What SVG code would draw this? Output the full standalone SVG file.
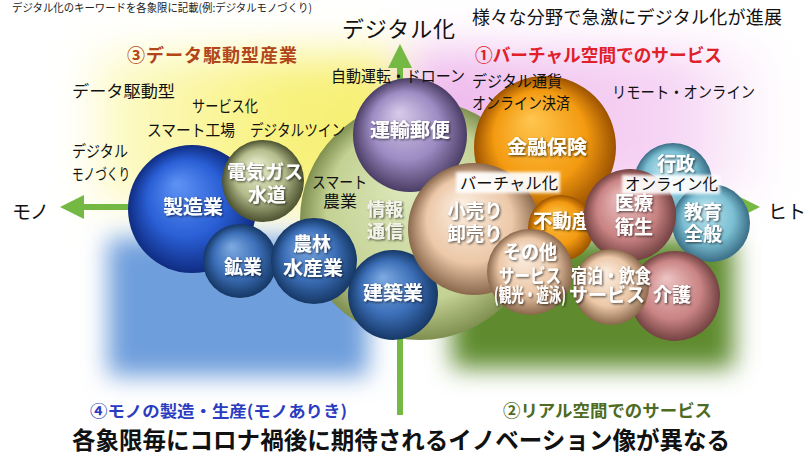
<svg xmlns="http://www.w3.org/2000/svg" width="810" height="455" viewBox="0 0 810 455">
<defs>
<style>
text{font-family:"Noto Sans CJK JP","Noto Sans CJK SC",sans-serif;}
.kw{font-size:16px;fill:#111;}
.bl{font-size:19px;font-weight:bold;fill:#fff;text-anchor:middle;filter:url(#ts);}
.q{font-weight:bold;}
.ax{stroke:#74b943;stroke-width:6;fill:none;}
.hl{fill:#fff;opacity:0.92;filter:url(#soft);}
</style>
<filter id="ts" x="-20%" y="-30%" width="140%" height="160%"><feDropShadow dx="1.2" dy="1.2" stdDeviation="1" flood-color="#000" flood-opacity="0.65"/></filter>
<filter id="blurL" x="-40%" y="-40%" width="180%" height="180%"><feGaussianBlur stdDeviation="22"/></filter>
<filter id="blurM" x="-40%" y="-40%" width="180%" height="180%"><feGaussianBlur stdDeviation="12"/></filter>
<filter id="soft" x="-20%" y="-50%" width="140%" height="200%"><feGaussianBlur stdDeviation="1.5"/></filter>
<linearGradient id="pinkG" x1="0" y1="0" x2="1" y2="0"><stop offset="0" stop-color="#eeb8ec"/><stop offset="0.7" stop-color="#f6d4f4"/><stop offset="1" stop-color="#fff"/></linearGradient>
<linearGradient id="yelG" x1="0" y1="0" x2="1" y2="0"><stop offset="0" stop-color="#fdfbd0"/><stop offset="0.6" stop-color="#f8f27e"/><stop offset="1" stop-color="#f6ee70"/></linearGradient>
<radialGradient id="gBig" cx="0.5" cy="0.5" r="0.5" fx="0.45" fy="0.35"><stop offset="0" stop-color="#dfe9bd"/><stop offset="0.75" stop-color="#c3d193"/><stop offset="1" stop-color="#7f8f4f"/></radialGradient>
<radialGradient id="gBlue" cx="0.5" cy="0.5" r="0.5" fx="0.38" fy="0.3"><stop offset="0" stop-color="#5f93f5"/><stop offset="0.6" stop-color="#2a5fd6"/><stop offset="1" stop-color="#0f2c82"/></radialGradient>
<radialGradient id="gSteel" cx="0.5" cy="0.5" r="0.5" fx="0.38" fy="0.3"><stop offset="0" stop-color="#7eaae2"/><stop offset="0.6" stop-color="#3c6fb8"/><stop offset="1" stop-color="#163866"/></radialGradient>
<radialGradient id="gOlive" cx="0.5" cy="0.5" r="0.5" fx="0.4" fy="0.3"><stop offset="0" stop-color="#eef1d2"/><stop offset="0.6" stop-color="#b4bd8c"/><stop offset="1" stop-color="#4d5230"/></radialGradient>
<radialGradient id="gPurple" cx="0.5" cy="0.5" r="0.5" fx="0.4" fy="0.3"><stop offset="0" stop-color="#d6cbe9"/><stop offset="0.6" stop-color="#9d8bc3"/><stop offset="1" stop-color="#4a3d64"/></radialGradient>
<radialGradient id="gOrange" cx="0.5" cy="0.5" r="0.5" fx="0.4" fy="0.3"><stop offset="0" stop-color="#ffc650"/><stop offset="0.65" stop-color="#f39a10"/><stop offset="1" stop-color="#9c5200"/></radialGradient>
<radialGradient id="gBeige" cx="0.5" cy="0.5" r="0.5" fx="0.4" fy="0.3"><stop offset="0" stop-color="#fcefe2"/><stop offset="0.65" stop-color="#ecc8a8"/><stop offset="1" stop-color="#8a684c"/></radialGradient>
<radialGradient id="gPink" cx="0.5" cy="0.5" r="0.5" fx="0.4" fy="0.3"><stop offset="0" stop-color="#eec4c4"/><stop offset="0.65" stop-color="#c98383"/><stop offset="1" stop-color="#744242"/></radialGradient>
<radialGradient id="gTeal" cx="0.5" cy="0.5" r="0.5" fx="0.4" fy="0.3"><stop offset="0" stop-color="#c4e8f2"/><stop offset="0.65" stop-color="#7bbfd3"/><stop offset="1" stop-color="#3a6e86"/></radialGradient>
<marker id="ah" viewBox="0 0 10 10" refX="5" refY="5" markerWidth="4" markerHeight="4" orient="auto-start-reverse" markerUnits="strokeWidth"><path d="M0,0 L10,5 L0,10 z" fill="#74b943"/></marker>
</defs>
<rect width="810" height="455" fill="#fff"/>

<g id="backgrounds">
<rect x="95" y="55" width="305" height="150" fill="url(#yelG)" filter="url(#blurL)"/>
<rect x="410" y="50" width="370" height="145" fill="url(#pinkG)" filter="url(#blurL)"/>
<rect x="108" y="238" width="260" height="138" fill="#6e9edb" filter="url(#blurM)"/>
<rect x="452" y="238" width="282" height="130" fill="#5f8b2e" filter="url(#blurM)"/>
</g>

<g id="connectors">
<line class="ax" x1="400" y1="415" x2="400" y2="56" marker-end="url(#ah)"/>
<line class="ax" x1="130" y1="207" x2="72" y2="207" marker-end="url(#ah)"/>
<line class="ax" x1="735" y1="207" x2="748" y2="207" marker-end="url(#ah)"/>
</g>

<g id="texts-top">
<text x="12" y="12" font-size="11" fill="#222" textLength="300" lengthAdjust="spacingAndGlyphs">デジタル化のキーワードを各象限に記載(例:デジタルモノづくり)</text>
<text x="342" y="37" font-size="22" fill="#111" textLength="113">デジタル化</text>
<text x="472" y="24" font-size="18" fill="#111" textLength="310">様々な分野で急激にデジタル化が進展</text>
<text class="q" x="127" y="62" font-size="18" fill="#b0461a" textLength="170">③データ駆動型産業</text>
<text class="q" x="475" y="62" font-size="18" fill="#e0202a" textLength="247" lengthAdjust="spacingAndGlyphs">①バーチャル空間でのサービス</text>
<text x="12" y="219" font-size="19" fill="#111" textLength="37">モノ</text>
<text x="768" y="219" font-size="19" fill="#111">ヒト</text>
</g>

<g id="node-green-area"><circle cx="420" cy="220" r="120" fill="url(#gBig)"/></g>

<g id="node-unyu"><circle cx="410" cy="135" r="57" fill="url(#gPurple)"/><text class="bl" x="410" y="137" textLength="80" lengthAdjust="spacingAndGlyphs">運輸郵便</text></g>
<g id="node-kinyu"><circle cx="545" cy="147" r="71" fill="url(#gOrange)"/><text class="bl" x="547" y="154" textLength="80" lengthAdjust="spacingAndGlyphs">金融保険</text></g>
<g id="node-seizo"><circle cx="192" cy="209" r="64" fill="url(#gBlue)"/><text class="bl" x="193" y="214" textLength="60" lengthAdjust="spacingAndGlyphs">製造業</text></g>
<g id="node-denki"><circle cx="263" cy="181" r="41" fill="url(#gOlive)"/><text class="bl" x="265" y="179" textLength="76" lengthAdjust="spacingAndGlyphs">電気ガス</text><text class="bl" x="267" y="202">水道</text></g>
<g id="node-kogyo"><circle cx="240" cy="261" r="37" fill="url(#gSteel)"/><text class="bl" x="243" y="274">鉱業</text></g>
<g id="node-norin"><circle cx="314" cy="261" r="43" fill="url(#gSteel)"/><text class="bl" x="312" y="251">農林</text><text class="bl" x="313" y="275" textLength="60" lengthAdjust="spacingAndGlyphs">水産業</text></g>
<g id="node-kenchiku"><circle cx="393" cy="295" r="45" fill="url(#gSteel)"/><text class="bl" x="393" y="300" textLength="60" lengthAdjust="spacingAndGlyphs">建築業</text></g>
<g id="node-joho"><text x="385" y="216" font-size="18" font-weight="bold" fill="#f4f4ec" text-anchor="middle" filter="url(#ts)">情報</text><text x="385" y="238" font-size="18" font-weight="bold" fill="#f4f4ec" text-anchor="middle" filter="url(#ts)">通信</text></g>
<g id="node-gyosei"><circle cx="673" cy="182" r="39" fill="url(#gTeal)"/><text class="bl" x="676" y="171">行政</text></g>
<g id="node-kyoiku"><circle cx="711" cy="223" r="39" fill="url(#gTeal)"/><text class="bl" x="703" y="219">教育</text><text class="bl" x="703" y="241">全般</text></g>
<g id="node-kouri"><circle cx="474" cy="229" r="66" fill="url(#gBeige)"/><text class="bl" x="475" y="218" font-size="18" textLength="55" lengthAdjust="spacingAndGlyphs">小売り</text><text class="bl" x="475" y="241" font-size="18" textLength="55" lengthAdjust="spacingAndGlyphs">卸売り</text></g>
<g id="node-fudosan"><circle cx="561" cy="228" r="33" fill="url(#gOrange)"/><text class="bl" x="562" y="228" textLength="58" lengthAdjust="spacingAndGlyphs">不動産</text></g>
<g id="node-kaigo"><circle cx="675" cy="296" r="45" fill="url(#gPink)"/><text class="bl" x="672" y="302" font-size="18">介護</text></g>
<g id="node-iryo"><circle cx="630" cy="215" r="46" fill="url(#gPink)"/><text class="bl" x="634" y="210">医療</text><text class="bl" x="634" y="234">衛生</text></g>
<g id="node-sonota"><circle cx="530" cy="272" r="43" fill="url(#gBeige)"/><text class="bl" x="530" y="259" font-size="18" textLength="54" lengthAdjust="spacingAndGlyphs">その他</text><text class="bl" x="530" y="283" font-size="16" textLength="62" lengthAdjust="spacingAndGlyphs">サービス</text><text class="bl" x="530" y="302" font-size="12" textLength="72" lengthAdjust="spacingAndGlyphs">(観光・遊泳)</text></g>
<g id="node-shukuhaku"><circle cx="611" cy="287" r="38" fill="url(#gBeige)"/><text class="bl" x="611" y="283" font-size="16" textLength="80" lengthAdjust="spacingAndGlyphs">宿泊・飲食</text><text class="bl" x="607" y="302" font-size="16">サービス</text></g>

<g id="keywords">
<text class="kw" x="72" y="97" font-size="17" textLength="103" lengthAdjust="spacingAndGlyphs">データ駆動型</text>
<text class="kw" x="192" y="112" textLength="66" lengthAdjust="spacingAndGlyphs">サービス化</text>
<text class="kw" x="147" y="136" textLength="88" lengthAdjust="spacingAndGlyphs">スマート工場</text>
<text class="kw" x="250" y="136" textLength="95" lengthAdjust="spacingAndGlyphs">デジタルツイン</text>
<text class="kw" x="72" y="157" textLength="56" lengthAdjust="spacingAndGlyphs">デジタル</text>
<text class="kw" x="72" y="180" textLength="58" lengthAdjust="spacingAndGlyphs">モノづくり</text>
<text class="kw" x="331" y="82" textLength="134" lengthAdjust="spacingAndGlyphs">自動運転・ドローン</text>
<text class="kw" x="472" y="87" textLength="90" lengthAdjust="spacingAndGlyphs">デジタル通貨</text>
<text class="kw" x="472" y="109" textLength="98" lengthAdjust="spacingAndGlyphs">オンライン決済</text>
<text class="kw" x="612" y="98" textLength="143" lengthAdjust="spacingAndGlyphs">リモート・オンライン</text>
<text class="kw" x="312" y="188" textLength="55" lengthAdjust="spacingAndGlyphs">スマート</text>
<text class="kw" x="323" y="207" textLength="34" lengthAdjust="spacingAndGlyphs">農業</text>
<rect class="hl" x="456" y="172" width="104" height="21"/>
<text class="kw" x="460" y="189" font-size="17" textLength="98" lengthAdjust="spacingAndGlyphs">バーチャル化</text>
<rect class="hl" x="622" y="175" width="98" height="19"/>
<text class="kw" x="625" y="190" font-size="17" textLength="93" lengthAdjust="spacingAndGlyphs">オンライン化</text>
</g>

<g id="texts-bottom">
<text class="q" x="90" y="417" font-size="16" fill="#2a3cc0" textLength="257" lengthAdjust="spacingAndGlyphs">④モノの製造・生産(モノありき)</text>
<text class="q" x="503" y="417" font-size="17" fill="#4e6b22" textLength="209" lengthAdjust="spacingAndGlyphs">②リアル空間でのサービス</text>
<text class="q" x="72" y="449" font-size="24" fill="#111" textLength="658" lengthAdjust="spacingAndGlyphs">各象限毎にコロナ禍後に期待されるイノベーション像が異なる</text>
</g>
</svg>
